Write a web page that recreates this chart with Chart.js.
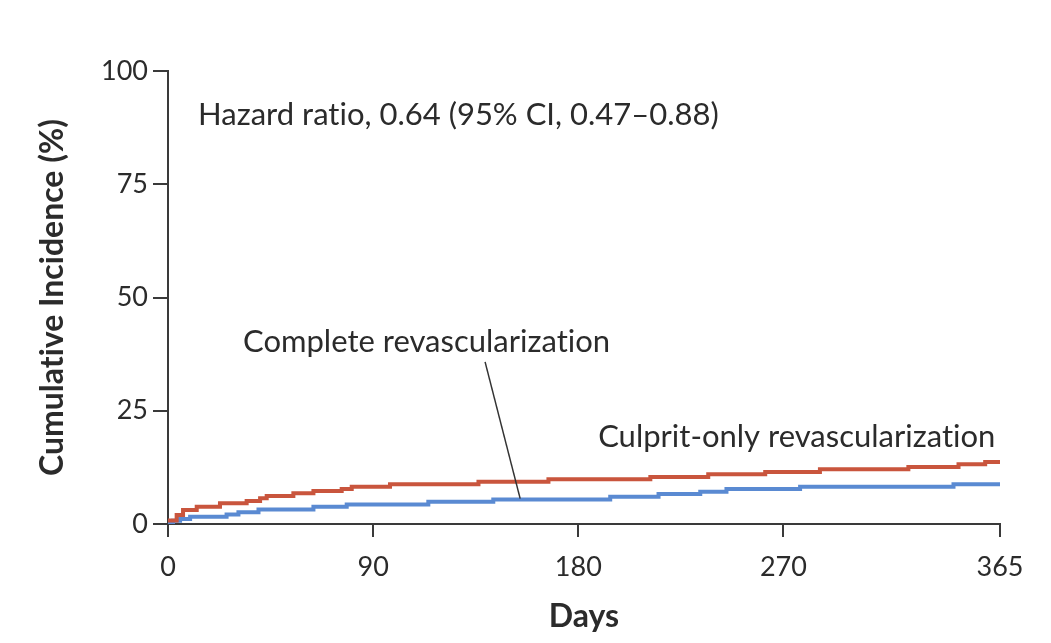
<!DOCTYPE html>
<html>
<head>
<meta charset="utf-8">
<script src="https://cdn.jsdelivr.net/npm/chart.js@4"></script>
<style>
  html, body { margin: 0; padding: 0; background: #fff; }
  #wrap { width: 1051px; height: 643px; position: relative; }
</style>
</head>
<body>
<div id="wrap"><canvas id="c" width="1051" height="643"></canvas></div>
<script>
// ---- Data ----
const culpritDays = [0, 3.8, 6.6, 12.6, 22.8, 34.5, 40.4, 43.3, 55, 63.8, 76.2, 80.6, 97.4, 136.2, 166.9, 211.6, 237, 262, 286, 324.8, 346.8, 358.5, 365];
const culpritPct  = [0.8, 2.0, 3.1, 3.8, 4.6, 5.1, 5.7, 6.2, 6.8, 7.3, 7.7, 8.2, 8.8, 9.3, 9.9, 10.4, 11.0, 11.5, 12.1, 12.6, 13.2, 13.7, 13.7];
const completeDays = [0, 2.2, 5.3, 9.7, 25.7, 30.9, 39.7, 63.8, 78.4, 114.2, 142.7, 194, 215.2, 233.5, 245, 277.3, 344.6, 365];
const completePct  = [0.4, 0.7, 1.1, 1.6, 2.1, 2.6, 3.2, 3.8, 4.3, 4.9, 5.4, 6.0, 6.6, 7.1, 7.7, 8.2, 8.8, 8.8];
const xTicks = [0, 90, 180, 270, 365];
const yTicks = [0, 25, 50, 75, 100];
// \u200C (zero-width non-joiner) only stops the "ti" ligature of the font
const seriesNames = ['Culprit-only revascularizat\u200Cion', 'Complete revascularizat\u200Cion'];
const hazardText = 'Hazard rat\u200Cio, 0.64 (95% CI, 0.47\u20130.88)';
const yTitle = 'Cumulat\u200Cive Incidence (%)';
const xTitle = 'Days';

const FONT = 'Lato, "Open Sans", sans-serif';
const TEXT = '#2b2b2b';
const AXIS = '#3a3a3a';

function toPoints(xs, ys) { return xs.map((x, i) => ({ x: x, y: ys[i] })); }

const annotations = {
  id: 'annotations',
  afterDatasetsDraw(chart) {
    const { ctx, scales: { x, y } } = chart;
    ctx.save();
    ctx.fillStyle = TEXT;
    ctx.textBaseline = 'middle';
    ctx.textAlign = 'left';
    ctx.font = '31px ' + FONT;
    ctx.fillText(hazardText, x.getPixelForValue(13.2), y.getPixelForValue(90.3));
    ctx.fillText(seriesNames[1], x.getPixelForValue(32.9), y.getPixelForValue(40.2));
    ctx.fillText(seriesNames[0], x.getPixelForValue(188.7), y.getPixelForValue(19.2));
    // leader line
    ctx.strokeStyle = '#333';
    ctx.lineWidth = 1.5;
    ctx.beginPath();
    ctx.moveTo(x.getPixelForValue(139.1), y.getPixelForValue(35.8));
    ctx.lineTo(x.getPixelForValue(154.5), y.getPixelForValue(5.6));
    ctx.stroke();
    ctx.restore();
  }
};

new Chart(document.getElementById('c'), {
  type: 'line',
  data: {
    datasets: [
      {
        label: seriesNames[0],
        data: toPoints(culpritDays, culpritPct),
        borderColor: '#c9553d',
        borderWidth: 4,
        stepped: 'before',
        pointRadius: 0,
        fill: false
      },
      {
        label: seriesNames[1],
        data: toPoints(completeDays, completePct),
        borderColor: '#5a8ad2',
        borderWidth: 4,
        stepped: 'before',
        pointRadius: 0,
        fill: false
      }
    ]
  },
  options: {
    responsive: false,
    animation: false,
    layout: { padding: { left: 0, right: 51, top: 71, bottom: 0 } },
    plugins: { legend: { display: false }, tooltip: { enabled: false } },
    scales: {
      x: {
        type: 'linear',
        min: 0, max: 365,
        afterBuildTicks(s) { s.ticks = xTicks.map(v => ({ value: v })); },
        afterFit(s) { s.height = 119; },
        ticks: { color: TEXT, font: { family: FONT, size: 27 }, padding: 14, maxRotation: 0 },
        grid: { drawOnChartArea: false, tickLength: 13, color: AXIS, lineWidth: 2 },
        border: { color: AXIS, width: 2 },
        title: { display: true, text: xTitle, color: TEXT, font: { family: FONT, size: 32, weight: 'bold' }, padding: { top: 0, bottom: 7 } }
      },
      y: {
        min: 0, max: 100,
        afterBuildTicks(s) { s.ticks = yTicks.map(v => ({ value: v })); },
        afterFit(s) { s.width = 168; },
        ticks: { color: TEXT, font: { family: FONT, size: 27 }, padding: 5 },
        grid: { drawOnChartArea: false, tickLength: 15, color: AXIS, lineWidth: 2 },
        border: { color: AXIS, width: 2 },
        title: { display: true, text: yTitle, color: TEXT, font: { family: FONT, size: 32, weight: 'bold' }, padding: { top: 33, bottom: 0 } }
      }
    }
  },
  plugins: [annotations]
});
</script>
</body>
</html>
